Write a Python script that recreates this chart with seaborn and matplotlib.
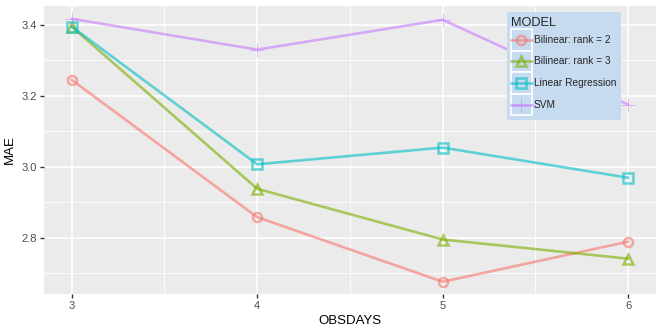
import numpy as np
import pandas as pd
import matplotlib
matplotlib.use("Agg")
import matplotlib.pyplot as plt
import seaborn as sns
from matplotlib.patches import Rectangle
from matplotlib.legend_handler import HandlerTuple, HandlerLine2D

obsdays = [3, 4, 5, 6]
models = ["Bilinear: rank = 2", "Bilinear: rank = 3", "Linear Regression", "SVM"]
mae_rank2 = [3.245, 2.858, 2.676, 2.789]
mae_rank3 = [3.395, 2.938, 2.795, 2.741]
mae_linreg = [3.395, 3.007, 3.054, 2.969]
mae_svm = [3.417, 3.330, 3.414, 3.175]

colors = ["#F8766D", "#7CAE00", "#00BFC4", "#C77CFF"]
marker_list = ["o", "^", "s", "+"]

df = pd.DataFrame({
    "OBSDAYS": obsdays * 4,
    "MAE": mae_rank2 + mae_rank3 + mae_linreg + mae_svm,
    "MODEL": [m for m in models for _ in obsdays],
})

sns.set_theme(style="darkgrid")
plt.rcParams["font.family"] = ["Liberation Sans", "DejaVu Sans"]

fig, ax = plt.subplots(figsize=(6.64, 3.32), dpi=100)
fig.subplots_adjust(left=0.066, right=0.988, top=0.982, bottom=0.115)
ax.set_facecolor("#EBEBEB")

# seaborn won't mix filled and line markers, so use "P" and swap it after
sns.lineplot(data=df, x="OBSDAYS", y="MAE", hue="MODEL", hue_order=models,
             palette=colors, style="MODEL", style_order=models,
             markers=dict(zip(models, ["o", "^", "s", "P"])), dashes=False,
             linewidth=1.9, alpha=0.6, legend=False, ax=ax)


def style_marker(line, c, m):
    line.set_marker(m)
    line.set_markerfacecolor("none")
    line.set_markeredgecolor(c)
    line.set_markeredgewidth(1.8 if m != "+" else 0.6)
    line.set_markersize(6.5 if m != "+" else 10)


for line, c, m in zip(ax.lines, colors, marker_list):
    style_marker(line, c, m)

ax.set_xlim(2.85, 6.15)
ax.set_ylim(2.642, 3.453)
ax.set_xticks(obsdays)
ax.set_yticks([2.8, 3.0, 3.2, 3.4])
ax.set_yticklabels(["2.8", "3.0", "3.2", "3.4"])
ax.set_xticks([3.5, 4.5, 5.5], minor=True)
ax.set_yticks([2.7, 2.9, 3.1, 3.3], minor=True)
ax.grid(which="major", color="white", linewidth=1.2)
ax.grid(which="minor", color="white", linewidth=0.6)
ax.tick_params(which="major", length=3, width=1, color="#333333",
               labelsize=8, labelcolor="#4D4D4D", pad=2)
ax.tick_params(which="minor", length=0)
ax.tick_params(axis="both", which="major", bottom=True, left=True)
for s in ax.spines.values():
    s.set_visible(False)
ax.set_xlabel("OBSDAYS", fontsize=9.5, color="black", labelpad=3)
ax.set_ylabel("MAE", fontsize=9.5, color="black", labelpad=4)


# move the legend line down to the middle of its key box
class CenteredLine(HandlerLine2D):
    def create_artists(self, legend, orig_handle, xdescent, ydescent,
                       width, height, fontsize, trans):
        arts = super().create_artists(legend, orig_handle, xdescent, ydescent,
                                      width, height, fontsize, trans)
        for a in arts:
            a.set_ydata(np.asarray(a.get_ydata()) - ydescent / 2)
        return arts


handles = []
for c, m in zip(colors, marker_list):
    box = Rectangle((0, 0), 1, 1, facecolor="#C6DAF0", edgecolor="white", linewidth=1.2)
    h, = ax.plot([], [], color=c, alpha=0.6, linewidth=1.9)
    style_marker(h, c, m)
    handles.append((box, h))
leg = ax.legend(handles, models, title="MODEL", loc="upper right",
                bbox_to_anchor=(0.951, 0.995), fontsize=7.3, title_fontsize=9.2,
                frameon=True, facecolor="#C6DAF0", edgecolor="none",
                framealpha=1, fancybox=False, handlelength=2.05, handleheight=2.9,
                borderpad=0.45, labelspacing=0.0, handletextpad=0.2,
                handler_map={tuple: HandlerTuple(ndivide=1, pad=0),
                             plt.Line2D: CenteredLine()})
leg._legend_box.align = "left"

fig.savefig("out.png", dpi=100)
